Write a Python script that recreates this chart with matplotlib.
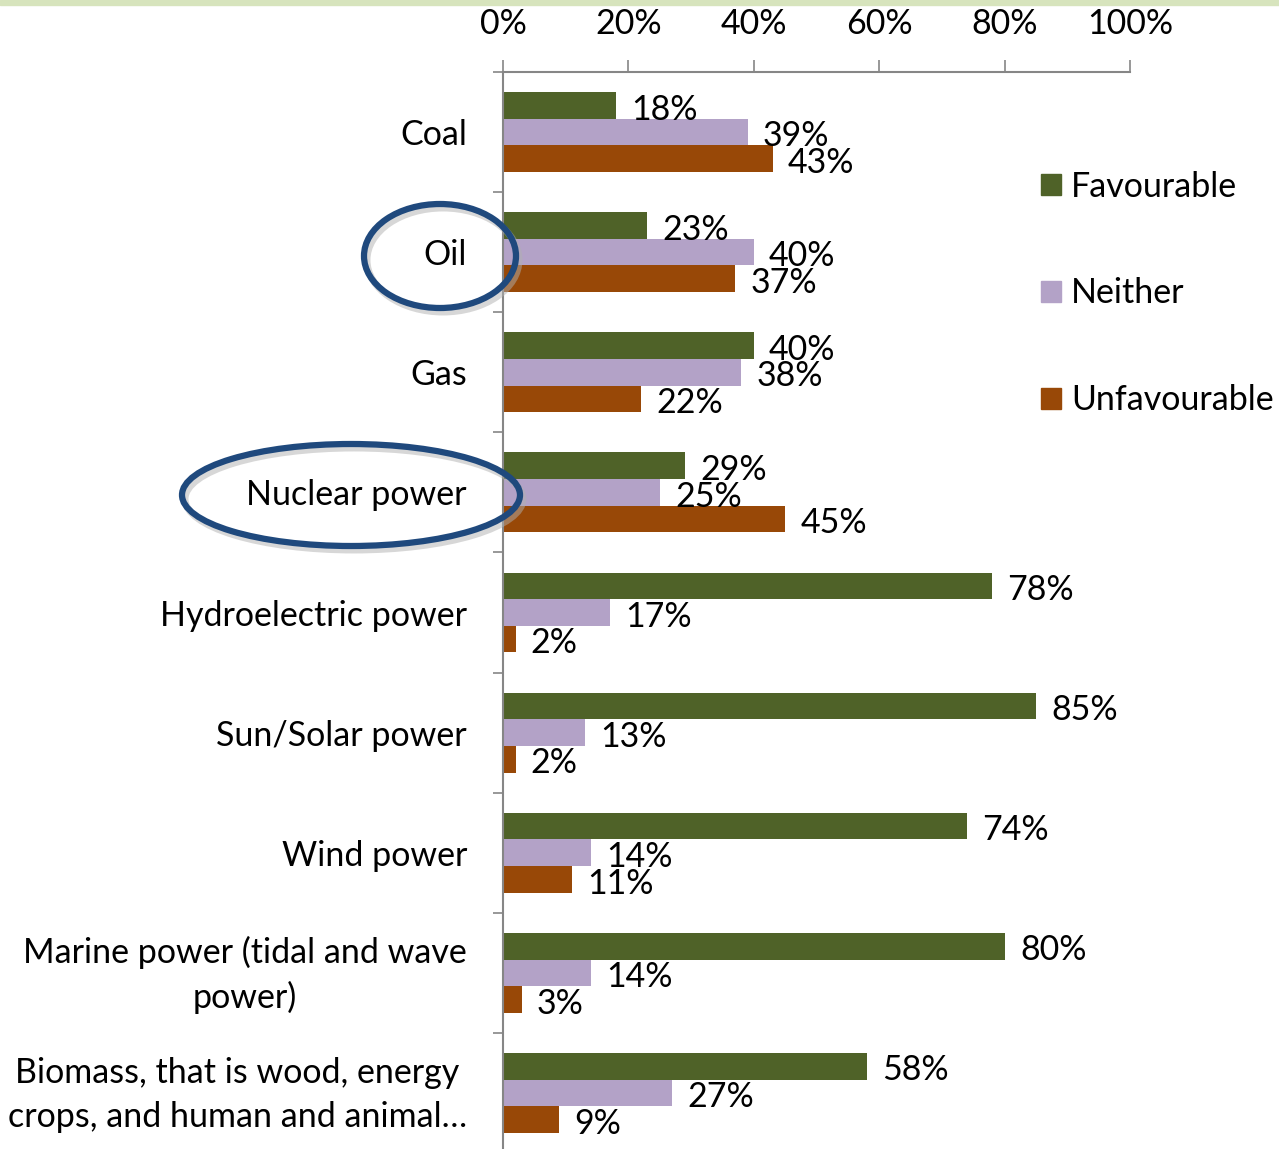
import matplotlib.pyplot as plt
from matplotlib.patches import Ellipse, Rectangle, Patch
from matplotlib.transforms import ScaledTranslation
import numpy as np

categories = ["Coal", "Oil", "Gas", "Nuclear power", "Hydroelectric power",
              "Sun/Solar power", "Wind power", "Marine power (tidal and wave\npower)",
              "Biomass, that is wood, energy\ncrops, and human and animal\u2026"]
favourable = [18, 23, 40, 29, 78, 85, 74, 80, 58]
neither = [39, 40, 38, 25, 17, 13, 14, 14, 27]
unfavourable = [43, 37, 22, 45, 2, 2, 11, 3, 9]
series_names = ["Favourable", "Neither", "Unfavourable"]
colors = ["#4F6228", "#B3A2C7", "#984807"]
xticks = [0, 20, 40, 60, 80, 100]

plt.rcParams['font.family'] = ['Lato', 'DejaVu Sans']
FS = 24.5

fig = plt.figure(figsize=(12.79, 11.49), dpi=100)
W, H = 1279, 1149
ax = fig.add_axes([503 / W, 1 - 1153 / H, (1130 - 503) / W, (1153 - 72) / H])

y = np.arange(len(categories))
bh = 0.222
for i, (vals, name, col) in enumerate(zip([favourable, neither, unfavourable], series_names, colors)):
    pos = y + (i - 1) * bh
    ax.barh(pos, vals, height=bh, color=col, label=name)
    for p, v in zip(pos, vals):
        ax.annotate(f"{v}%", (v, p), xytext=(11, -3), textcoords="offset points",
                    va="center", ha="left", fontsize=FS)

ax.set_xlim(0, 100)
ax.set_ylim(len(categories) - 0.5, -0.5)
ax.xaxis.tick_top()
ax.set_xticks(xticks)
ax.set_xticklabels([f"{t}%" for t in xticks], fontsize=FS)
ax.tick_params(axis='x', direction='out', length=9, width=1.2, color='#868686', pad=14)
ax.set_yticks(y)
ax.set_yticklabels(categories, fontsize=FS, multialignment='center', linespacing=1.45)
ax.set_yticks(np.arange(len(categories) + 1) - 0.5, minor=True)
ax.tick_params(axis='y', which='major', length=0, pad=26)
ax.tick_params(axis='y', which='minor', length=7, width=1.2, color='#868686')
# two-line labels sit a little higher in the original
for lbl in ax.get_yticklabels():
    if "\n" in lbl.get_text():
        lbl.set_transform(lbl.get_transform() + ScaledTranslation(0, 7 / 100, fig.dpi_scale_trans))
for s in ['right', 'bottom']:
    ax.spines[s].set_visible(False)
for s in ['top', 'left']:
    ax.spines[s].set_color('#868686')
    ax.spines[s].set_linewidth(1.5)

handles = [Patch(color=c) for c in colors]
fig.legend(handles, series_names, loc='upper left', bbox_to_anchor=(1027 / W, 1 - 157 / H),
           frameon=False, fontsize=FS, handlelength=0.6, handleheight=0.6,
           handletextpad=0.3, labelspacing=2.2, borderaxespad=0)

# top strip
fig.patches.append(Rectangle((0, 1 - 5 / H), 1, 5 / H, transform=fig.transFigure,
                             color="#D7E4BD", zorder=0))

# highlight ellipses
for cx, cy, ew, eh in [(440, 256, 152, 104), (351, 495, 338, 102)]:
    sh = Ellipse(((cx + 3) / W, 1 - (cy + 4) / H), ew / W, eh / H, transform=fig.transFigure,
                 fill=False, edgecolor='#B0B0B0', linewidth=5, alpha=0.5)
    e = Ellipse((cx / W, 1 - cy / H), ew / W, eh / H, transform=fig.transFigure,
                fill=False, edgecolor='#1F497D', linewidth=4.5)
    fig.patches.extend([sh, e])

fig.savefig("out.png", dpi=100)
